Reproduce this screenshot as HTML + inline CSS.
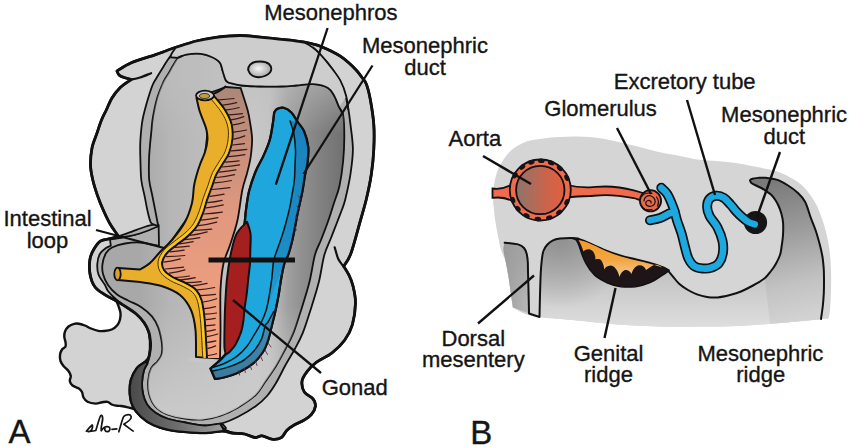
<!DOCTYPE html>
<html><head><meta charset="utf-8">
<style>
html,body{margin:0;padding:0;background:#fff;}
body{width:850px;height:447px;overflow:hidden;}
svg{display:block;}
text{font-family:"Liberation Sans",sans-serif;font-size:22px;fill:#151515;stroke:#151515;stroke-width:0.35px;text-anchor:middle;}
</style></head><body>
<svg width="850" height="447" viewBox="0 0 850 447">
<defs>
<linearGradient id="cav" x1="140" y1="0" x2="345" y2="0" gradientUnits="userSpaceOnUse">
<stop offset="0" stop-color="#a8a8a8"/><stop offset="0.15" stop-color="#b6b6b6"/><stop offset="0.3" stop-color="#bcbcbc"/><stop offset="0.55" stop-color="#c8c8c8"/><stop offset="0.63" stop-color="#c4c4c4"/><stop offset="0.72" stop-color="#a0a0a0"/><stop offset="0.8" stop-color="#8e8e8e"/><stop offset="0.9" stop-color="#7e7e7e"/><stop offset="1" stop-color="#707070"/>
</linearGradient>
<linearGradient id="cavb" x1="0" y1="85" x2="0" y2="410" gradientUnits="userSpaceOnUse">
<stop offset="0" stop-color="#c0c0c0" stop-opacity="0.5"/><stop offset="0.15" stop-color="#c0c0c0" stop-opacity="0"/><stop offset="0.68" stop-color="#cbcbcb" stop-opacity="0"/><stop offset="1" stop-color="#cbcbcb" stop-opacity="0.9"/>
</linearGradient>
<linearGradient id="pink" x1="0" y1="90" x2="0" y2="360" gradientUnits="userSpaceOnUse">
<stop offset="0" stop-color="#ad8779"/><stop offset="0.45" stop-color="#e0987f"/><stop offset="1" stop-color="#f6a27e"/>
</linearGradient>
<linearGradient id="darkband" x1="130" y1="0" x2="225" y2="0" gradientUnits="userSpaceOnUse">
<stop offset="0" stop-color="#4a4a4a"/><stop offset="0.5" stop-color="#6e6e6e"/><stop offset="1" stop-color="#a0a0a0"/>
</linearGradient>
<radialGradient id="oval" cx="0.45" cy="0.45" r="0.6">
<stop offset="0" stop-color="#f6f6f6"/><stop offset="1" stop-color="#a0a0a0"/>
</radialGradient>
<linearGradient id="aorta" x1="0" y1="0" x2="1" y2="0">
<stop offset="0" stop-color="#8e746c"/><stop offset="0.6" stop-color="#c9644c"/><stop offset="1" stop-color="#e2603e"/>
</linearGradient>
<linearGradient id="coel" x1="0" y1="240" x2="0" y2="328" gradientUnits="userSpaceOnUse">
<stop offset="0" stop-color="#b4b4b4"/><stop offset="0.5" stop-color="#c8c8c8"/><stop offset="1" stop-color="#dedede"/>
</linearGradient>
<linearGradient id="wedge" x1="770" y1="182" x2="800" y2="318" gradientUnits="userSpaceOnUse">
<stop offset="0" stop-color="#7a7a7a"/><stop offset="0.35" stop-color="#999999"/><stop offset="0.75" stop-color="#c2c2c2"/><stop offset="1" stop-color="#d2d2d2"/>
</linearGradient>
<radialGradient id="rlobe" cx="560" cy="238" r="70" gradientUnits="userSpaceOnUse">
<stop offset="0" stop-color="#8c8c8c" stop-opacity="0.9"/><stop offset="1" stop-color="#8c8c8c" stop-opacity="0"/>
</radialGradient>
<linearGradient id="dband" x1="0" y1="120" x2="0" y2="330" gradientUnits="userSpaceOnUse">
<stop offset="0" stop-color="#1a82bc"/><stop offset="0.6" stop-color="#1b8cc6"/><stop offset="1" stop-color="#20a4dc"/>
</linearGradient>
<linearGradient id="steel" x1="0" y1="320" x2="0" y2="379" gradientUnits="userSpaceOnUse">
<stop offset="0" stop-color="#3e8fb6"/><stop offset="1" stop-color="#3a7a9c"/>
</linearGradient>
<linearGradient id="lobeL" x1="497" y1="0" x2="529" y2="0" gradientUnits="userSpaceOnUse">
<stop offset="0" stop-color="#969696"/><stop offset="1" stop-color="#b8b8b8"/>
</linearGradient>
<linearGradient id="ridge" x1="0" y1="240" x2="0" y2="276" gradientUnits="userSpaceOnUse">
<stop offset="0" stop-color="#f49a2a"/><stop offset="0.55" stop-color="#f3a640"/><stop offset="1" stop-color="#f2c890"/>
</linearGradient>
<clipPath id="bodyclip"><path d="M117.0 71.0 C119.4 69.6 125.0 65.4 131.3 62.7 C137.6 60.0 148.9 56.9 154.8 54.9 C160.8 52.9 162.8 52.0 167.0 50.5 C171.2 49.0 175.1 47.6 180.0 46.0 C184.9 44.4 191.0 42.4 196.5 41.0 C202.0 39.6 207.5 38.6 213.0 37.8 C218.5 37.0 224.7 36.4 229.4 36.0 C234.1 35.6 236.9 35.4 241.0 35.5 C245.1 35.6 249.1 36.0 254.0 36.5 C258.9 37.0 265.1 37.6 270.6 38.2 C276.1 38.8 281.5 39.3 287.0 39.9 C292.5 40.5 299.3 41.3 303.6 42.0 C307.9 42.7 310.3 43.3 313.0 44.0 C315.7 44.7 317.0 44.9 320.0 46.1 C323.0 47.3 327.6 49.3 331.0 51.0 C334.4 52.7 337.3 54.2 340.3 56.2 C343.3 58.2 346.3 60.6 349.0 63.0 C351.7 65.3 354.2 67.9 356.4 70.3 C358.6 72.7 360.3 75.2 362.0 77.5 C363.7 79.8 365.1 80.6 366.5 84.4 C367.9 88.2 369.3 93.8 370.5 100.5 C371.7 107.2 373.2 116.5 373.8 124.6 C374.4 132.7 374.2 141.0 373.8 149.2 C373.4 157.4 372.6 165.6 371.4 173.8 C370.2 182.0 368.4 190.5 366.5 198.5 C364.6 206.5 362.6 212.8 360.0 222.0 C357.4 231.2 353.5 246.3 350.8 253.7 C348.1 261.1 344.9 264.1 343.7 266.2 L343.7 266.2 C344.6 267.7 347.4 271.9 349.0 275.2 C350.6 278.5 351.9 281.4 353.0 286.0 C354.1 290.6 355.6 296.3 355.5 302.7 C355.4 309.1 354.2 318.3 352.4 324.6 C350.6 330.9 348.0 335.6 344.6 340.3 C341.2 345.0 336.7 349.2 332.0 352.9 C327.3 356.6 320.5 359.2 316.3 362.3 C312.1 365.4 309.4 368.5 307.0 371.7 C304.6 374.9 302.4 377.9 302.0 381.3 C301.6 384.7 302.5 389.0 304.3 391.9 C306.1 394.8 311.1 396.5 313.0 398.9 C314.9 401.2 315.8 403.4 315.5 406.0 C315.2 408.6 313.2 412.4 311.3 414.7 C309.4 417.0 307.2 418.2 304.3 420.0 C301.4 421.8 296.7 423.4 293.8 425.2 C290.9 426.9 288.8 428.4 286.7 430.5 C284.6 432.6 283.8 436.0 281.5 437.5 C279.2 439.0 275.9 439.6 272.7 439.3 C269.4 439.0 264.9 436.1 262.0 435.8 C259.1 435.5 257.9 437.8 255.0 437.5 C252.1 437.2 248.4 434.8 244.6 434.0 C240.8 433.2 236.1 433.5 232.3 433.0 C228.5 432.5 226.5 431.0 222.0 431.0 C217.5 431.0 211.6 432.7 205.5 432.8 C199.4 432.9 191.4 432.3 185.4 431.8 C179.4 431.3 174.7 431.0 169.3 429.8 C163.9 428.6 157.9 427.0 153.2 424.8 C148.5 422.6 144.5 419.7 141.1 416.6 C137.7 413.5 134.8 410.1 133.0 406.4 C131.2 402.7 130.3 398.7 130.0 394.3 C129.7 389.9 129.8 384.6 131.0 380.2 C132.2 375.8 134.8 371.1 137.1 368.1 C139.4 365.1 143.8 363.1 145.1 362.1 L145.1 362.1 C145.6 361.5 147.6 359.9 148.3 358.5 C149.1 357.1 149.2 356.1 149.6 354.0 C150.0 351.9 150.5 348.1 150.6 346.0 C150.7 343.9 150.7 343.7 150.4 341.4 C150.1 339.1 149.9 335.1 148.8 332.0 C147.8 328.9 146.2 325.6 144.1 322.6 C142.0 319.6 139.7 316.9 136.3 314.0 C132.9 311.1 127.5 307.8 123.8 305.4 C120.1 303.0 117.6 301.7 114.4 299.9 C111.2 298.1 107.9 296.8 104.7 294.6 C101.5 292.5 97.5 290.4 95.0 287.0 C92.5 283.6 90.8 278.7 90.0 274.0 C89.2 269.3 89.3 263.2 90.0 259.0 C90.7 254.8 92.2 252.0 94.0 249.0 C95.8 246.0 97.9 242.7 100.6 241.0 C103.3 239.3 107.0 239.5 110.0 238.7 C113.0 237.9 117.2 236.7 118.6 236.3 L118.6 236.3 C118.2 235.8 117.7 235.3 116.3 233.2 C114.9 231.1 112.1 227.5 110.0 223.8 C107.9 220.2 105.9 216.0 103.8 211.3 C101.7 206.6 99.3 200.8 97.5 195.6 C95.7 190.4 94.0 185.1 92.8 180.0 C91.6 174.9 90.6 170.3 90.5 165.0 C90.4 159.7 91.0 153.2 92.0 148.0 C93.0 142.8 95.2 138.3 96.8 133.6 C98.4 128.9 99.9 123.9 101.5 120.0 C103.1 116.1 104.5 113.7 106.3 110.0 C108.0 106.3 109.7 101.8 112.0 98.0 C114.3 94.2 117.1 90.6 120.3 87.5 C123.5 84.4 129.5 80.8 131.3 79.5 L131.3 79.5 C130.1 79.2 126.0 78.2 124.0 77.5 C122.0 76.8 120.2 76.1 119.0 75.0 C117.8 73.9 117.3 71.7 117.0 71.0 Z"/></clipPath>
</defs>

<!-- ============ PANEL A ============ -->
<path fill="#d3d3d3" stroke="#111" stroke-width="2.4" stroke-linejoin="round" d="M116.0 300.0 C116.5 301.1 118.0 304.7 118.8 306.9 C119.5 309.1 120.3 310.9 120.5 313.0 C120.7 315.1 120.5 317.5 120.0 319.5 C119.5 321.5 118.9 323.3 117.5 325.0 C116.1 326.7 114.0 328.5 111.7 329.5 C109.5 330.5 106.2 330.8 104.0 331.0 C101.8 331.2 100.5 331.3 98.3 330.9 C96.1 330.5 93.2 329.4 91.0 328.5 C88.8 327.6 86.9 326.3 84.9 325.5 C82.9 324.7 80.8 324.1 79.0 323.8 C77.2 323.5 76.0 323.4 74.2 323.8 C72.5 324.2 70.0 325.2 68.5 326.5 C67.0 327.8 65.7 329.8 65.0 331.5 C64.3 333.2 64.2 335.2 64.3 337.0 C64.4 338.8 65.3 340.4 65.5 342.0 C65.7 343.6 66.1 345.2 65.5 346.5 C64.9 347.8 62.9 348.1 62.0 349.5 C61.1 350.9 60.2 353.1 60.0 355.0 C59.8 356.9 59.9 359.2 60.5 361.0 C61.1 362.8 62.2 364.3 63.5 366.0 C64.8 367.7 67.3 369.3 68.5 371.0 C69.7 372.7 70.6 374.3 70.8 376.0 C71.0 377.7 69.5 379.4 69.8 381.0 C70.1 382.6 71.0 384.3 72.5 385.5 C74.0 386.7 76.9 387.2 78.5 388.3 C80.1 389.4 81.2 390.5 82.0 392.0 C82.8 393.5 82.6 395.9 83.5 397.5 C84.4 399.1 85.5 400.8 87.5 401.8 C89.5 402.8 93.2 403.5 95.6 403.6 C98.0 403.7 100.0 402.6 102.0 402.3 C104.0 402.0 105.9 401.4 107.5 401.8 C109.1 402.2 110.1 403.8 111.7 404.5 C113.3 405.2 115.4 405.6 117.0 405.8 C118.6 406.1 119.3 405.7 121.1 406.0 C122.9 406.3 125.8 406.9 128.0 407.4 C130.2 407.9 133.0 408.7 134.0 409.0 L150.0 380.0 L150.0 320.0 Z"/>
<path fill="#d3d3d3" stroke="#111" stroke-width="2.6" stroke-linejoin="round" d="M117.0 71.0 C119.4 69.6 125.0 65.4 131.3 62.7 C137.6 60.0 148.9 56.9 154.8 54.9 C160.8 52.9 162.8 52.0 167.0 50.5 C171.2 49.0 175.1 47.6 180.0 46.0 C184.9 44.4 191.0 42.4 196.5 41.0 C202.0 39.6 207.5 38.6 213.0 37.8 C218.5 37.0 224.7 36.4 229.4 36.0 C234.1 35.6 236.9 35.4 241.0 35.5 C245.1 35.6 249.1 36.0 254.0 36.5 C258.9 37.0 265.1 37.6 270.6 38.2 C276.1 38.8 281.5 39.3 287.0 39.9 C292.5 40.5 299.3 41.3 303.6 42.0 C307.9 42.7 310.3 43.3 313.0 44.0 C315.7 44.7 317.0 44.9 320.0 46.1 C323.0 47.3 327.6 49.3 331.0 51.0 C334.4 52.7 337.3 54.2 340.3 56.2 C343.3 58.2 346.3 60.6 349.0 63.0 C351.7 65.3 354.2 67.9 356.4 70.3 C358.6 72.7 360.3 75.2 362.0 77.5 C363.7 79.8 365.1 80.6 366.5 84.4 C367.9 88.2 369.3 93.8 370.5 100.5 C371.7 107.2 373.2 116.5 373.8 124.6 C374.4 132.7 374.2 141.0 373.8 149.2 C373.4 157.4 372.6 165.6 371.4 173.8 C370.2 182.0 368.4 190.5 366.5 198.5 C364.6 206.5 362.6 212.8 360.0 222.0 C357.4 231.2 353.5 246.3 350.8 253.7 C348.1 261.1 344.9 264.1 343.7 266.2 L343.7 266.2 C344.6 267.7 347.4 271.9 349.0 275.2 C350.6 278.5 351.9 281.4 353.0 286.0 C354.1 290.6 355.6 296.3 355.5 302.7 C355.4 309.1 354.2 318.3 352.4 324.6 C350.6 330.9 348.0 335.6 344.6 340.3 C341.2 345.0 336.7 349.2 332.0 352.9 C327.3 356.6 320.5 359.2 316.3 362.3 C312.1 365.4 309.4 368.5 307.0 371.7 C304.6 374.9 302.4 377.9 302.0 381.3 C301.6 384.7 302.5 389.0 304.3 391.9 C306.1 394.8 311.1 396.5 313.0 398.9 C314.9 401.2 315.8 403.4 315.5 406.0 C315.2 408.6 313.2 412.4 311.3 414.7 C309.4 417.0 307.2 418.2 304.3 420.0 C301.4 421.8 296.7 423.4 293.8 425.2 C290.9 426.9 288.8 428.4 286.7 430.5 C284.6 432.6 283.8 436.0 281.5 437.5 C279.2 439.0 275.9 439.6 272.7 439.3 C269.4 439.0 264.9 436.1 262.0 435.8 C259.1 435.5 257.9 437.8 255.0 437.5 C252.1 437.2 248.4 434.8 244.6 434.0 C240.8 433.2 236.1 433.5 232.3 433.0 C228.5 432.5 226.5 431.0 222.0 431.0 C217.5 431.0 211.6 432.7 205.5 432.8 C199.4 432.9 191.4 432.3 185.4 431.8 C179.4 431.3 174.7 431.0 169.3 429.8 C163.9 428.6 157.9 427.0 153.2 424.8 C148.5 422.6 144.5 419.7 141.1 416.6 C137.7 413.5 134.8 410.1 133.0 406.4 C131.2 402.7 130.3 398.7 130.0 394.3 C129.7 389.9 129.8 384.6 131.0 380.2 C132.2 375.8 134.8 371.1 137.1 368.1 C139.4 365.1 143.8 363.1 145.1 362.1 L145.1 362.1 C145.6 361.5 147.6 359.9 148.3 358.5 C149.1 357.1 149.2 356.1 149.6 354.0 C150.0 351.9 150.5 348.1 150.6 346.0 C150.7 343.9 150.7 343.7 150.4 341.4 C150.1 339.1 149.9 335.1 148.8 332.0 C147.8 328.9 146.2 325.6 144.1 322.6 C142.0 319.6 139.7 316.9 136.3 314.0 C132.9 311.1 127.5 307.8 123.8 305.4 C120.1 303.0 117.6 301.7 114.4 299.9 C111.2 298.1 107.9 296.8 104.7 294.6 C101.5 292.5 97.5 290.4 95.0 287.0 C92.5 283.6 90.8 278.7 90.0 274.0 C89.2 269.3 89.3 263.2 90.0 259.0 C90.7 254.8 92.2 252.0 94.0 249.0 C95.8 246.0 97.9 242.7 100.6 241.0 C103.3 239.3 107.0 239.5 110.0 238.7 C113.0 237.9 117.2 236.7 118.6 236.3 L118.6 236.3 C118.2 235.8 117.7 235.3 116.3 233.2 C114.9 231.1 112.1 227.5 110.0 223.8 C107.9 220.2 105.9 216.0 103.8 211.3 C101.7 206.6 99.3 200.8 97.5 195.6 C95.7 190.4 94.0 185.1 92.8 180.0 C91.6 174.9 90.6 170.3 90.5 165.0 C90.4 159.7 91.0 153.2 92.0 148.0 C93.0 142.8 95.2 138.3 96.8 133.6 C98.4 128.9 99.9 123.9 101.5 120.0 C103.1 116.1 104.5 113.7 106.3 110.0 C108.0 106.3 109.7 101.8 112.0 98.0 C114.3 94.2 117.1 90.6 120.3 87.5 C123.5 84.4 129.5 80.8 131.3 79.5 L131.3 79.5 C130.1 79.2 126.0 78.2 124.0 77.5 C122.0 76.8 120.2 76.1 119.0 75.0 C117.8 73.9 117.3 71.7 117.0 71.0 Z"/>
<path fill="#b0b0b0" stroke="#111" stroke-width="1.8" stroke-linejoin="round" d="M173.9 51.7 C176.6 51.1 179.0 49.5 190.0 48.0 C201.0 46.5 223.3 44.0 240.0 43.0 C256.7 42.0 278.5 41.8 290.0 42.0 C301.5 42.2 303.7 42.1 309.0 44.5 C314.3 46.9 317.9 52.1 321.8 56.2 C325.7 60.3 329.2 64.3 332.4 68.9 C335.6 73.5 338.7 79.5 340.8 83.7 C342.9 87.9 343.8 90.4 345.0 94.3 C346.2 98.2 347.1 102.0 348.0 107.0 C348.9 112.0 349.7 117.6 350.5 124.6 C351.3 131.6 352.9 141.0 352.9 149.2 C352.9 157.4 351.7 165.6 350.5 173.8 C349.3 182.0 346.9 192.5 345.5 198.5 C344.1 204.5 343.2 206.2 341.8 210.0 C340.4 213.8 339.2 216.8 337.4 221.5 C335.6 226.2 333.2 232.4 331.0 238.0 C328.8 243.6 326.3 247.7 324.3 255.0 C322.3 262.3 321.1 272.9 318.9 281.8 C316.7 290.8 313.6 300.2 310.9 308.7 C308.2 317.2 305.5 326.2 302.8 332.9 C300.1 339.6 297.8 343.5 294.8 349.0 C291.8 354.5 288.1 360.3 285.0 366.0 C281.9 371.7 279.0 378.0 276.0 383.0 C273.0 388.0 270.4 392.1 267.0 396.0 C263.6 399.9 260.4 402.9 255.6 406.3 C250.8 409.8 243.9 413.8 238.1 416.7 C232.3 419.6 226.2 422.2 220.7 423.7 C215.2 425.2 210.9 425.7 205.0 425.5 C199.1 425.3 191.7 423.7 185.4 422.5 C179.1 421.3 172.3 420.2 167.3 418.5 C162.3 416.8 158.6 414.8 155.2 412.4 C151.8 410.0 149.1 407.4 147.1 404.4 C145.1 401.4 143.9 398.0 143.1 394.3 C142.3 390.6 141.9 386.2 142.1 382.2 C142.3 378.2 143.2 373.2 144.1 370.1 C145.0 367.0 146.6 366.0 147.5 363.5 C148.4 361.0 149.1 357.9 149.6 355.0 C150.1 352.1 150.5 348.3 150.6 346.0 C150.7 343.7 150.7 343.7 150.4 341.4 C150.1 339.1 149.9 335.1 148.8 332.0 C147.8 328.9 146.2 325.6 144.1 322.6 C142.0 319.6 139.7 316.9 136.3 314.0 C132.9 311.1 127.4 308.1 123.8 305.4 C120.2 302.7 117.2 300.4 114.6 298.0 C112.0 295.6 109.7 293.2 108.0 291.0 C106.3 288.8 106.3 287.2 104.7 284.5 C103.1 281.8 99.7 277.9 98.5 274.5 C97.3 271.1 97.1 267.4 97.3 264.0 C97.5 260.6 98.3 256.7 99.8 254.0 C101.2 251.3 104.2 249.4 106.0 248.0 C107.8 246.6 110.0 246.1 110.8 245.7 L110.8 245.7 C110.7 244.7 110.1 240.5 110.0 239.5 L110.0 239.5 C112.3 239.1 119.0 238.1 124.0 237.0 C129.0 235.9 134.8 235.3 139.8 233.2 C144.8 231.1 151.6 226.0 153.9 224.6 L153.9 224.6 C153.4 224.2 151.8 224.5 150.7 222.3 C149.6 220.1 148.6 215.8 147.6 211.3 C146.6 206.9 145.6 200.8 144.5 195.6 C143.4 190.4 142.0 185.9 141.3 180.0 C140.6 174.1 140.6 165.8 140.4 160.0 C140.2 154.2 140.1 150.0 140.2 145.0 C140.3 140.0 140.8 134.2 141.2 130.0 C141.6 125.8 141.9 123.3 142.5 120.0 C143.1 116.7 143.8 113.8 144.8 110.0 C145.8 106.2 147.2 101.2 148.5 97.0 C149.8 92.8 151.3 88.2 152.6 85.0 C153.9 81.8 154.9 80.7 156.5 78.0 C158.1 75.3 160.1 72.0 162.0 69.0 C163.9 66.0 165.8 62.7 167.8 59.8 C169.8 56.9 172.9 53.1 173.9 51.7 Z"/>
<path fill="url(#cav)" stroke="#111" stroke-width="1.8" stroke-linejoin="round" d="M177.9 57.8 C179.3 57.3 182.5 55.2 186.3 54.6 C190.1 54.0 196.8 53.5 200.9 53.9 C205.0 54.3 207.8 55.3 211.0 56.8 C214.2 58.2 217.9 60.2 219.8 62.6 C221.8 65.0 221.7 68.4 222.7 71.3 C223.7 74.2 224.6 78.1 225.6 80.0 C226.6 81.9 228.0 82.2 228.5 82.7 L228.5 82.7 C230.6 83.2 236.0 84.9 241.3 85.5 C246.6 86.1 253.6 86.3 260.3 86.5 C267.0 86.7 275.5 86.7 281.5 86.5 C287.5 86.3 291.1 85.9 296.4 85.5 C301.7 85.1 308.0 83.8 313.3 84.2 C318.6 84.6 324.5 86.0 328.0 88.0 C331.5 90.0 332.7 93.2 334.5 96.4 C336.3 99.6 337.6 103.9 339.0 107.0 C340.4 110.1 342.2 109.8 343.1 114.8 C344.0 119.8 344.3 129.1 344.3 136.9 C344.3 144.7 343.9 153.3 343.1 161.5 C342.3 169.7 340.9 179.3 339.4 186.2 C337.9 193.1 335.9 197.1 334.0 203.0 C332.1 208.9 330.2 215.3 328.0 221.5 C325.8 227.7 323.2 234.4 321.0 240.0 C318.8 245.6 316.8 248.0 314.9 255.0 C313.0 262.0 311.7 272.9 309.5 281.8 C307.3 290.8 304.2 300.2 301.5 308.7 C298.8 317.2 296.1 326.2 293.4 332.9 C290.7 339.6 288.3 343.5 285.4 349.0 C282.5 354.5 279.4 360.5 276.0 366.0 C272.6 371.5 268.4 377.2 265.0 382.0 C261.6 386.8 260.1 390.8 255.6 395.0 C251.1 399.2 243.9 404.0 238.1 407.4 C232.3 410.8 226.5 413.6 220.7 415.6 C214.8 417.6 208.9 419.0 203.0 419.5 C197.1 420.0 190.9 419.4 185.0 418.5 C179.1 417.6 172.3 416.4 167.3 414.4 C162.3 412.4 158.2 409.8 155.2 406.4 C152.2 403.0 150.4 398.7 149.2 394.3 C148.0 389.9 147.9 384.6 148.2 380.2 C148.5 375.8 149.7 371.1 151.2 368.1 C152.7 365.1 155.4 364.0 157.0 362.0 C158.6 360.0 160.1 358.0 161.0 356.0 C161.9 354.0 162.1 352.7 162.2 350.0 C162.3 347.3 162.1 343.6 161.4 339.8 C160.7 336.0 159.8 331.2 158.2 327.3 C156.6 323.4 154.9 319.7 152.0 316.3 C149.1 312.9 144.9 309.5 141.0 306.9 C137.1 304.3 132.5 302.8 128.5 300.7 C124.5 298.6 120.4 297.1 117.0 294.5 C113.6 291.9 110.3 288.4 108.0 285.0 C105.7 281.6 103.9 277.5 103.0 274.0 C102.1 270.5 102.0 267.5 102.5 264.0 C103.0 260.5 104.4 255.8 106.0 253.0 C107.6 250.2 108.8 249.1 112.0 247.5 C115.2 245.9 120.3 244.3 125.0 243.5 C129.7 242.7 134.3 242.1 140.0 242.5 C145.7 242.9 155.8 245.4 159.0 246.0 L159.0 246.0 C158.9 242.7 158.8 229.9 158.6 226.2 C158.4 222.5 158.3 226.3 157.8 223.8 C157.3 221.3 156.3 216.0 155.4 211.3 C154.5 206.6 153.3 200.8 152.3 195.6 C151.3 190.4 149.8 185.9 149.2 180.0 C148.6 174.1 148.9 165.8 149.0 160.0 C149.1 154.2 149.6 150.0 150.0 145.0 C150.4 140.0 151.1 134.2 151.5 130.0 C151.9 125.8 152.0 123.3 152.5 120.0 C153.0 116.7 153.5 113.8 154.3 110.0 C155.1 106.2 156.2 101.2 157.5 97.0 C158.8 92.8 160.8 88.0 162.1 85.0 C163.3 82.0 163.9 80.9 165.0 79.0 C166.1 77.1 167.1 75.8 168.5 73.5 C169.9 71.2 171.6 67.8 173.2 65.2 C174.8 62.6 177.1 59.0 177.9 57.8 Z"/>
<path fill="url(#cavb)" d="M177.9 57.8 C179.3 57.3 182.5 55.2 186.3 54.6 C190.1 54.0 196.8 53.5 200.9 53.9 C205.0 54.3 207.8 55.3 211.0 56.8 C214.2 58.2 217.9 60.2 219.8 62.6 C221.8 65.0 221.7 68.4 222.7 71.3 C223.7 74.2 224.6 78.1 225.6 80.0 C226.6 81.9 228.0 82.2 228.5 82.7 L228.5 82.7 C230.6 83.2 236.0 84.9 241.3 85.5 C246.6 86.1 253.6 86.3 260.3 86.5 C267.0 86.7 275.5 86.7 281.5 86.5 C287.5 86.3 291.1 85.9 296.4 85.5 C301.7 85.1 308.0 83.8 313.3 84.2 C318.6 84.6 324.5 86.0 328.0 88.0 C331.5 90.0 332.7 93.2 334.5 96.4 C336.3 99.6 337.6 103.9 339.0 107.0 C340.4 110.1 342.2 109.8 343.1 114.8 C344.0 119.8 344.3 129.1 344.3 136.9 C344.3 144.7 343.9 153.3 343.1 161.5 C342.3 169.7 340.9 179.3 339.4 186.2 C337.9 193.1 335.9 197.1 334.0 203.0 C332.1 208.9 330.2 215.3 328.0 221.5 C325.8 227.7 323.2 234.4 321.0 240.0 C318.8 245.6 316.8 248.0 314.9 255.0 C313.0 262.0 311.7 272.9 309.5 281.8 C307.3 290.8 304.2 300.2 301.5 308.7 C298.8 317.2 296.1 326.2 293.4 332.9 C290.7 339.6 288.3 343.5 285.4 349.0 C282.5 354.5 279.4 360.5 276.0 366.0 C272.6 371.5 268.4 377.2 265.0 382.0 C261.6 386.8 260.1 390.8 255.6 395.0 C251.1 399.2 243.9 404.0 238.1 407.4 C232.3 410.8 226.5 413.6 220.7 415.6 C214.8 417.6 208.9 419.0 203.0 419.5 C197.1 420.0 190.9 419.4 185.0 418.5 C179.1 417.6 172.3 416.4 167.3 414.4 C162.3 412.4 158.2 409.8 155.2 406.4 C152.2 403.0 150.4 398.7 149.2 394.3 C148.0 389.9 147.9 384.6 148.2 380.2 C148.5 375.8 149.7 371.1 151.2 368.1 C152.7 365.1 155.4 364.0 157.0 362.0 C158.6 360.0 160.1 358.0 161.0 356.0 C161.9 354.0 162.1 352.7 162.2 350.0 C162.3 347.3 162.1 343.6 161.4 339.8 C160.7 336.0 159.8 331.2 158.2 327.3 C156.6 323.4 154.9 319.7 152.0 316.3 C149.1 312.9 144.9 309.5 141.0 306.9 C137.1 304.3 132.5 302.8 128.5 300.7 C124.5 298.6 120.4 297.1 117.0 294.5 C113.6 291.9 110.3 288.4 108.0 285.0 C105.7 281.6 103.9 277.5 103.0 274.0 C102.1 270.5 102.0 267.5 102.5 264.0 C103.0 260.5 104.4 255.8 106.0 253.0 C107.6 250.2 108.8 249.1 112.0 247.5 C115.2 245.9 120.3 244.3 125.0 243.5 C129.7 242.7 134.3 242.1 140.0 242.5 C145.7 242.9 155.8 245.4 159.0 246.0 L159.0 246.0 C158.9 242.7 158.8 229.9 158.6 226.2 C158.4 222.5 158.3 226.3 157.8 223.8 C157.3 221.3 156.3 216.0 155.4 211.3 C154.5 206.6 153.3 200.8 152.3 195.6 C151.3 190.4 149.8 185.9 149.2 180.0 C148.6 174.1 148.9 165.8 149.0 160.0 C149.1 154.2 149.6 150.0 150.0 145.0 C150.4 140.0 151.1 134.2 151.5 130.0 C151.9 125.8 152.0 123.3 152.5 120.0 C153.0 116.7 153.5 113.8 154.3 110.0 C155.1 106.2 156.2 101.2 157.5 97.0 C158.8 92.8 160.8 88.0 162.1 85.0 C163.3 82.0 163.9 80.9 165.0 79.0 C166.1 77.1 167.1 75.8 168.5 73.5 C169.9 71.2 171.6 67.8 173.2 65.2 C174.8 62.6 177.1 59.0 177.9 57.8 Z"/>
<path fill="#cdcdcd" clip-path="url(#bodyclip)" d="M165.0 40.0 C172.2 39.3 195.5 37.0 208.0 36.0 C220.5 35.0 227.8 34.0 240.0 34.0 C252.2 34.0 270.7 34.8 281.5 36.0 C292.3 37.2 299.9 39.4 305.0 41.0 C310.1 42.6 309.5 43.3 312.0 45.5 C314.5 47.7 317.0 50.5 320.0 54.0 C323.0 57.5 326.8 61.9 330.2 66.3 C333.6 70.7 337.6 75.4 340.3 80.4 C343.0 85.4 345.3 93.8 346.3 96.5 L346.3 97.0 L339.0 107.0 C338.2 105.2 336.3 99.6 334.5 96.4 C332.7 93.2 331.5 90.0 328.0 88.0 C324.5 86.0 318.6 84.6 313.3 84.2 C308.0 83.8 301.7 85.1 296.4 85.5 C291.1 85.9 287.5 86.3 281.5 86.5 C275.5 86.7 267.0 86.7 260.3 86.5 C253.6 86.3 246.6 86.1 241.3 85.5 C236.0 84.9 230.6 83.2 228.5 82.7 L228.5 82.7 C228.0 82.2 226.6 81.9 225.6 80.0 C224.6 78.1 223.7 74.2 222.7 71.3 C221.7 68.4 221.8 65.0 219.8 62.6 C217.9 60.2 214.2 58.2 211.0 56.8 C207.8 55.3 205.0 54.3 200.9 53.9 C196.8 53.5 191.4 54.1 186.3 54.6 C181.2 55.1 173.0 56.4 170.3 56.8 L160.0 50.0 Z"/>
<path fill="none" stroke="#111" stroke-width="1.8" d="M169.5 57.3 C170.9 57.4 175.1 58.2 177.9 57.8 C180.7 57.3 182.5 55.2 186.3 54.6 C190.1 54.0 196.8 53.5 200.9 53.9 C205.0 54.3 207.8 55.3 211.0 56.8 C214.2 58.2 217.9 60.2 219.8 62.6 C221.8 65.0 221.7 68.4 222.7 71.3 C223.7 74.2 224.6 78.1 225.6 80.0 C226.6 81.9 228.0 82.2 228.5 82.7 M228.5 82.7 C230.6 83.2 236.0 84.9 241.3 85.5 C246.6 86.1 253.6 86.3 260.3 86.5 C267.0 86.7 275.5 86.7 281.5 86.5 C287.5 86.3 291.1 85.9 296.4 85.5 C301.7 85.1 308.0 83.8 313.3 84.2 C318.6 84.6 324.5 86.0 328.0 88.0 C331.5 90.0 332.7 93.2 334.5 96.4 C336.3 99.6 337.6 103.9 339.0 107.0 C340.4 110.1 342.4 113.5 343.1 114.8"/>
<path fill="none" stroke="#111" stroke-width="1.8" d="M169.8 57.5 L172 53 L175.5 48"/>
<path fill="none" stroke="#111" stroke-width="1.8" d="M305 43 C312 46 316 50 320 54 C324 58.5 327 62 330.2 66.3 C334 71 337.5 75.5 340.3 80.4 C343 85.5 345 91 346.3 96.5 C347.3 101 348 105.5 348.4 110"/>
<path fill="none" stroke="#111" stroke-width="2.8" stroke-linejoin="round" d="M117.0 71.0 C119.4 69.6 125.0 65.4 131.3 62.7 C137.6 60.0 148.9 56.9 154.8 54.9 C160.8 52.9 162.8 52.0 167.0 50.5 C171.2 49.0 175.1 47.6 180.0 46.0 C184.9 44.4 191.0 42.4 196.5 41.0 C202.0 39.6 207.5 38.6 213.0 37.8 C218.5 37.0 224.7 36.4 229.4 36.0 C234.1 35.6 236.9 35.4 241.0 35.5 C245.1 35.6 249.1 36.0 254.0 36.5 C258.9 37.0 265.1 37.6 270.6 38.2 C276.1 38.8 281.5 39.3 287.0 39.9 C292.5 40.5 299.3 41.3 303.6 42.0 C307.9 42.7 310.3 43.3 313.0 44.0 C315.7 44.7 317.0 44.9 320.0 46.1 C323.0 47.3 327.6 49.3 331.0 51.0 C334.4 52.7 337.3 54.2 340.3 56.2 C343.3 58.2 346.3 60.6 349.0 63.0 C351.7 65.3 354.2 67.9 356.4 70.3 C358.6 72.7 360.3 75.2 362.0 77.5 C363.7 79.8 365.1 80.6 366.5 84.4 C367.9 88.2 369.3 93.8 370.5 100.5 C371.7 107.2 373.2 116.5 373.8 124.6 C374.4 132.7 374.2 141.0 373.8 149.2 C373.4 157.4 372.6 165.6 371.4 173.8 C370.2 182.0 368.4 190.5 366.5 198.5 C364.6 206.5 362.6 212.8 360.0 222.0 C357.4 231.2 353.5 246.3 350.8 253.7 C348.1 261.1 344.9 264.1 343.7 266.2 L343.7 266.2 C344.6 267.7 347.4 271.9 349.0 275.2 C350.6 278.5 351.9 281.4 353.0 286.0 C354.1 290.6 355.6 296.3 355.5 302.7 C355.4 309.1 354.2 318.3 352.4 324.6 C350.6 330.9 348.0 335.6 344.6 340.3 C341.2 345.0 336.7 349.2 332.0 352.9 C327.3 356.6 320.5 359.2 316.3 362.3 C312.1 365.4 309.4 368.5 307.0 371.7 C304.6 374.9 302.4 377.9 302.0 381.3 C301.6 384.7 302.5 389.0 304.3 391.9 C306.1 394.8 311.1 396.5 313.0 398.9 C314.9 401.2 315.8 403.4 315.5 406.0 C315.2 408.6 313.2 412.4 311.3 414.7 C309.4 417.0 307.2 418.2 304.3 420.0 C301.4 421.8 296.7 423.4 293.8 425.2 C290.9 426.9 288.8 428.4 286.7 430.5 C284.6 432.6 283.8 436.0 281.5 437.5 C279.2 439.0 275.9 439.6 272.7 439.3 C269.4 439.0 264.9 436.1 262.0 435.8 C259.1 435.5 257.9 437.8 255.0 437.5 C252.1 437.2 248.4 434.8 244.6 434.0 C240.8 433.2 236.1 433.5 232.3 433.0 C228.5 432.5 226.5 431.0 222.0 431.0 C217.5 431.0 211.6 432.7 205.5 432.8 C199.4 432.9 191.4 432.3 185.4 431.8 C179.4 431.3 174.7 431.0 169.3 429.8 C163.9 428.6 157.9 427.0 153.2 424.8 C148.5 422.6 144.5 419.7 141.1 416.6 C137.7 413.5 134.8 410.1 133.0 406.4 C131.2 402.7 130.3 398.7 130.0 394.3 C129.7 389.9 129.8 384.6 131.0 380.2 C132.2 375.8 134.8 371.1 137.1 368.1 C139.4 365.1 143.8 363.1 145.1 362.1 L145.1 362.1 C145.6 361.5 147.6 359.9 148.3 358.5 C149.1 357.1 149.2 356.1 149.6 354.0 C150.0 351.9 150.5 348.1 150.6 346.0 C150.7 343.9 150.7 343.7 150.4 341.4 C150.1 339.1 149.9 335.1 148.8 332.0 C147.8 328.9 146.2 325.6 144.1 322.6 C142.0 319.6 139.7 316.9 136.3 314.0 C132.9 311.1 127.5 307.8 123.8 305.4 C120.1 303.0 117.6 301.7 114.4 299.9 C111.2 298.1 107.9 296.8 104.7 294.6 C101.5 292.5 97.5 290.4 95.0 287.0 C92.5 283.6 90.8 278.7 90.0 274.0 C89.2 269.3 89.3 263.2 90.0 259.0 C90.7 254.8 92.2 252.0 94.0 249.0 C95.8 246.0 97.9 242.7 100.6 241.0 C103.3 239.3 107.0 239.5 110.0 238.7 C113.0 237.9 117.2 236.7 118.6 236.3 L118.6 236.3 C118.2 235.8 117.7 235.3 116.3 233.2 C114.9 231.1 112.1 227.5 110.0 223.8 C107.9 220.2 105.9 216.0 103.8 211.3 C101.7 206.6 99.3 200.8 97.5 195.6 C95.7 190.4 94.0 185.1 92.8 180.0 C91.6 174.9 90.6 170.3 90.5 165.0 C90.4 159.7 91.0 153.2 92.0 148.0 C93.0 142.8 95.2 138.3 96.8 133.6 C98.4 128.9 99.9 123.9 101.5 120.0 C103.1 116.1 104.5 113.7 106.3 110.0 C108.0 106.3 109.7 101.8 112.0 98.0 C114.3 94.2 117.1 90.6 120.3 87.5 C123.5 84.4 129.5 80.8 131.3 79.5 L131.3 79.5 C130.1 79.2 126.0 78.2 124.0 77.5 C122.0 76.8 120.2 76.1 119.0 75.0 C117.8 73.9 117.3 71.7 117.0 71.0 Z"/>
<path d="M248.2 70 C248 66 251 62.5 256 61.8 C261 61 266 61.5 269 64 C271.5 66.5 272 70 270 72.5 C267.5 75.5 263 77 259 77.2 C254 77.3 249.5 74.5 248.2 70 Z" fill="url(#oval)" stroke="#111" stroke-width="2"/>
<path fill="#acacac" stroke="#111" stroke-width="1.8" stroke-linejoin="round" d="M118.6 236.3 C120.8 235.5 127.7 233.2 132.0 231.6 C136.3 230.0 140.8 228.2 144.5 227.0 C148.2 225.8 152.3 225.0 153.9 224.6 L158.6 226.2 L155.4 227.5 C152.8 228.5 145.0 231.9 139.8 233.5 C134.6 235.1 129.0 236.1 124.0 237.0 C119.0 237.9 112.3 238.4 110.0 238.7 Z"/>
<path fill="url(#darkband)" stroke="#111" stroke-width="1.8" stroke-linejoin="round" d="M145.1 362.1 C143.8 363.1 139.4 365.1 137.1 368.1 C134.8 371.1 132.2 375.8 131.0 380.2 C129.8 384.6 129.7 389.9 130.0 394.3 C130.3 398.7 131.2 402.7 133.0 406.4 C134.8 410.1 137.7 413.5 141.1 416.6 C144.5 419.7 148.5 422.6 153.2 424.8 C157.9 427.0 163.9 428.6 169.3 429.8 C174.7 431.0 179.4 431.3 185.4 431.8 C191.4 432.3 199.4 432.9 205.5 432.8 C211.6 432.7 219.2 431.3 222.0 431.0 L226.0 428.0 C225.1 427.3 224.2 424.1 220.7 423.7 C217.2 423.3 210.9 425.7 205.0 425.5 C199.1 425.3 191.7 423.7 185.4 422.5 C179.1 421.3 172.3 420.2 167.3 418.5 C162.3 416.8 158.6 414.8 155.2 412.4 C151.8 410.0 149.1 407.4 147.1 404.4 C145.1 401.4 143.9 398.0 143.1 394.3 C142.3 390.6 141.9 386.2 142.1 382.2 C142.3 378.2 143.2 373.2 144.1 370.1 C145.0 367.0 146.9 364.6 147.5 363.5 Z"/>
<path fill="none" stroke="#111" stroke-width="2.2" stroke-linecap="round" d="M220.7 424.5 C221.3 425.3 222.3 428.1 224.2 429.5 C226.1 430.9 231.0 432.4 232.3 433.0"/>
<path fill="none" stroke="#111" stroke-width="2.2" stroke-linecap="round" d="M334.7 247.4 C335.3 249.3 336.8 255.8 338.3 259.0 C339.8 262.2 342.6 265.2 343.5 266.5"/>
<path fill="none" stroke="#111" stroke-width="2.2" stroke-linecap="round" d="M131.3 79.5 C132.8 79.2 136.7 78.5 140.0 77.5 C143.3 76.5 149.2 73.9 151.1 73.2"/>

<!-- mesentery pink -->
<path fill="url(#pink)" stroke="#111" stroke-width="1.8" d="M212.0 92.0 C214.3 91.2 223.7 87.8 226.0 87.0 L240.7 88.0 C241.8 91.7 246.0 104.0 247.6 110.0 C249.2 116.0 249.6 119.2 250.3 124.0 C251.1 128.8 251.9 133.8 252.1 138.6 C252.2 143.4 251.6 148.8 251.2 153.0 C250.8 157.2 250.2 160.1 249.4 163.7 C248.7 167.3 247.9 170.0 246.7 174.4 C245.5 178.8 243.9 182.2 242.3 190.0 C240.7 197.8 239.4 211.8 237.3 221.0 C235.2 230.2 232.3 237.9 230.0 245.0 C227.7 252.1 225.1 256.0 223.5 263.5 C221.9 271.0 221.0 278.9 220.5 290.0 C220.0 301.1 220.6 318.5 220.5 330.0 C220.4 341.5 220.1 354.2 220.0 359.0 L200.0 359.0 L192.0 300.0 L176.0 287.0 L155.0 266.0 L172.0 240.0 L200.0 200.0 Z"/>
<g stroke="#3a1c14" stroke-width="1.2" fill="none" stroke-linecap="round">
<path d="M218.6 99.9 q7.7 -0.4 15.4 -1.4"/>
<path d="M222.7 105.1 q7.0 -0.7 14.0 -2.4"/>
<path d="M226.4 109.9 q6.4 -0.7 12.8 -2.4"/>
<path d="M228.7 114.8 q6.9 -0.4 13.8 -1.2"/>
<path d="M231.0 119.8 q6.4 -1.0 12.8 -3.2"/>
<path d="M233.1 124.9 q5.6 -0.8 11.2 -2.7"/>
<path d="M233.5 132.1 q6.5 -0.6 13.0 -2.1"/>
<path d="M233.8 139.2 q5.5 -1.0 11.0 -3.3"/>
<path d="M232.4 145.0 q6.0 -0.4 12.1 -1.3"/>
<path d="M231.0 150.8 q8.0 -0.5 15.9 -1.5"/>
<path d="M228.4 156.6 q8.2 -0.6 16.5 -2.0"/>
<path d="M225.2 162.1 q7.0 -0.4 13.9 -1.2"/>
<path d="M222.3 167.0 q8.7 -0.6 17.3 -2.2"/>
<path d="M219.2 172.1 q8.4 -0.7 16.8 -2.2"/>
<path d="M216.7 177.5 q9.0 -0.9 17.9 -2.9"/>
<path d="M214.7 182.9 q8.4 -0.7 16.7 -2.4"/>
<path d="M212.4 189.5 q8.8 -0.5 17.6 -1.8"/>
<path d="M209.9 196.3 q7.1 -0.6 14.2 -2.1"/>
<path d="M207.7 202.7 q7.2 -0.7 14.4 -2.3"/>
<path d="M206.1 207.9 q8.6 -0.9 17.2 -3.0"/>
<path d="M204.0 214.0 q9.2 -0.6 18.4 -1.9"/>
<path d="M201.2 220.1 q8.4 -0.8 16.8 -2.5"/>
<path d="M198.6 225.7 q9.1 -1.0 18.2 -3.5"/>
<path d="M194.5 230.4 q8.6 -0.4 17.2 -1.2"/>
<path d="M190.1 235.4 q8.6 -1.1 17.1 -3.6"/>
<path d="M184.7 239.7 q7.6 -0.6 15.1 -2.0"/>
<path d="M179.5 243.8 q6.9 -0.7 13.7 -2.2"/>
<path d="M175.1 247.4 q7.1 -0.4 14.2 -1.2"/>
<path d="M169.9 251.8 q7.2 -0.5 14.3 -1.7"/>
<path d="M166.5 256.7 q9.2 -0.4 18.3 -1.2"/>
<path d="M163.8 262.2 q8.3 -1.0 16.6 -3.3"/>
<path d="M165.3 269.0 q9.2 -0.5 18.3 -1.8"/>
<path d="M169.4 273.2 q7.8 -1.0 15.6 -3.3"/>
<path d="M175.1 277.5 q7.2 -0.4 14.4 -1.5"/>
<path d="M180.4 279.9 q7.4 -0.7 14.9 -2.3"/>
<path d="M186.3 282.7 q7.5 -0.3 15.0 -1.1"/>
<path d="M191.5 285.9 q7.8 -0.8 15.6 -2.5"/>
<path d="M197.3 289.9 q8.7 -0.7 17.4 -2.4"/>
<path d="M200.5 295.6 q7.5 -0.4 15.0 -1.2"/>
<path d="M203.3 302.0 q6.7 -1.0 13.3 -3.3"/>
<path d="M204.5 308.7 q5.5 -0.6 11.0 -2.1"/>
<path d="M205.4 314.2 q5.6 -0.4 11.2 -1.2"/>
<path d="M206.1 319.6 q4.6 -0.4 9.2 -1.3"/>
<path d="M206.5 325.6 q4.2 -0.3 8.5 -0.8"/>
<path d="M206.9 331.3 q4.2 -0.5 8.4 -1.6"/>
<path d="M207.3 336.6 q5.2 -0.8 10.5 -2.6"/>
<path d="M207.6 342.3 q4.1 -0.5 8.3 -1.5"/>
<path d="M208.0 348.3 q3.8 -0.7 7.6 -2.4"/>
<path d="M208.4 355.5 q4.1 -0.5 8.2 -1.8"/>
</g>
<!-- gut -->
<path fill="#eaaf2a" stroke="#111" stroke-width="2" stroke-linejoin="round" d="M196.5 98.0 C197.0 100.0 198.2 106.3 199.3 110.0 C200.4 113.7 201.8 116.7 203.0 120.0 C204.2 123.3 205.8 126.7 206.5 130.0 C207.2 133.3 207.7 136.3 207.4 140.0 C207.2 143.7 206.2 148.0 205.0 152.0 C203.8 156.0 201.6 160.2 200.2 164.0 C198.8 167.8 197.6 171.3 196.6 175.0 C195.6 178.7 194.8 181.3 194.0 186.0 C193.2 190.7 193.5 197.0 192.0 203.0 C190.5 209.0 188.3 215.8 185.0 222.0 C181.7 228.2 176.2 235.0 172.0 240.0 C167.8 245.0 163.7 248.2 160.0 252.0 C156.3 255.8 153.3 260.1 150.0 263.0 C146.7 265.9 141.7 268.4 140.0 269.5 L118.0 268.0 L118.0 280.0 L140.0 282.0 C143.6 282.7 154.8 283.8 161.5 286.0 C168.2 288.2 175.1 291.0 180.0 295.0 C184.9 299.0 188.4 304.2 191.0 310.0 C193.6 315.8 194.7 322.2 195.5 330.0 C196.3 337.8 195.9 352.5 196.0 357.0 L207.0 358.0 C206.8 355.0 206.4 346.7 206.0 340.0 C205.6 333.3 205.2 324.7 204.5 318.0 C203.8 311.3 203.0 304.8 201.5 300.0 C200.0 295.2 198.3 292.3 195.6 289.5 C192.9 286.7 189.3 285.1 185.5 283.0 C181.7 280.9 176.1 279.2 172.5 277.0 C168.9 274.8 165.7 272.5 164.0 270.0 C162.3 267.5 161.7 264.8 162.2 262.0 C162.7 259.2 164.6 255.8 167.0 253.0 C169.4 250.2 173.0 247.8 176.5 245.0 C180.0 242.2 184.6 239.2 188.0 236.0 C191.4 232.8 194.5 229.8 197.0 226.0 C199.5 222.2 201.3 217.3 203.0 213.0 C204.7 208.7 205.5 204.3 207.0 200.0 C208.5 195.7 210.2 191.3 211.8 187.0 C213.4 182.7 214.5 178.2 216.3 174.4 C218.1 170.6 220.5 167.6 222.6 164.0 C224.7 160.4 227.4 157.2 229.0 153.0 C230.6 148.8 232.0 143.8 232.4 139.0 C232.8 134.2 232.7 128.8 231.5 124.0 C230.3 119.2 227.9 114.7 225.0 110.0 C222.1 105.3 215.8 98.3 214.0 96.0 Z"/>
<path fill="none" stroke="#f8c61e" stroke-width="2.4" d="M212.1 97.5 C213.9 99.8 220.1 106.8 223.0 111.3 C225.8 115.8 228.0 120.0 229.2 124.6 C230.3 129.2 230.4 134.2 230.0 138.8 C229.6 143.4 228.3 148.1 226.8 152.1 C225.2 156.1 222.6 159.2 220.5 162.8 C218.4 166.3 216.0 169.5 214.1 173.4 C212.3 177.3 211.1 181.9 209.5 186.2 C208.0 190.5 206.2 194.9 204.7 199.2 C203.3 203.6 202.4 207.9 200.8 212.1 C199.1 216.4 197.4 221.0 195.0 224.7 C192.6 228.4 189.7 231.2 186.4 234.2 C183.0 237.3 178.5 240.3 175.0 243.1 C171.5 246.0 167.7 248.4 165.2 251.5 C162.6 254.5 160.4 258.3 159.8 261.6 C159.3 264.9 160.1 268.4 162.0 271.4 C163.9 274.3 167.5 276.8 171.3 279.1 C175.0 281.3 180.6 283.1 184.4 285.1 C188.1 287.1 191.4 288.5 193.9 291.1 C196.3 293.7 197.8 296.2 199.2 300.7 C200.6 305.2 201.4 311.7 202.1 318.3 C202.8 324.8 203.2 333.5 203.6 340.1 C204.0 346.8 204.4 355.1 204.6 358.1"/>
<path fill="none" stroke="#4a3010" stroke-width="1" d="M210.7 98.6 C212.5 100.9 218.6 107.8 221.4 112.2 C224.2 116.6 226.3 120.6 227.4 125.0 C228.6 129.4 228.6 134.2 228.2 138.6 C227.8 143.0 226.6 147.6 225.1 151.5 C223.6 155.3 221.1 158.3 219.0 161.9 C216.9 165.4 214.4 168.7 212.5 172.6 C210.6 176.6 209.4 181.2 207.9 185.6 C206.3 189.9 204.5 194.3 203.0 198.7 C201.6 203.0 200.7 207.3 199.1 211.5 C197.5 215.7 195.8 220.1 193.5 223.7 C191.2 227.3 188.4 229.9 185.1 232.9 C181.9 235.9 177.4 238.8 173.9 241.7 C170.3 244.6 166.4 247.0 163.8 250.3 C161.2 253.6 158.6 257.6 158.1 261.3 C157.5 265.0 158.5 269.2 160.5 272.4 C162.6 275.6 166.5 278.2 170.3 280.6 C174.2 283.0 179.8 284.7 183.5 286.7 C187.2 288.7 190.2 290.0 192.5 292.4 C194.9 294.8 196.2 296.9 197.5 301.3 C198.8 305.6 199.6 312.0 200.3 318.5 C201.0 325.0 201.4 333.6 201.8 340.3 C202.2 346.9 202.6 355.2 202.8 358.2"/>
<!-- gut opening top -->
<ellipse cx="205" cy="95.5" rx="9" ry="4.8" fill="#c9c9c9" stroke="#111" stroke-width="1.8"/>
<ellipse cx="204.5" cy="96" rx="5" ry="2.5" fill="#c99a3a" stroke="#111" stroke-width="0.8"/>
<path d="M213 94 C218 92 222 90 226 86" fill="none" stroke="#111" stroke-width="1.8"/>
<!-- branch opening -->
<ellipse cx="117.5" cy="274" rx="3.2" ry="6.3" fill="#d9a030" stroke="#111" stroke-width="1.8"/>
<!-- gut bottom cut (light) -->
<path d="M189 357.5 L221 359.5 L221 364 L189 361.5 Z" fill="#c6c6c6"/>
<!-- blue mesonephros -->
<path fill="#1fa6dd" stroke="#111" stroke-width="2.2" stroke-linejoin="round" d="M274.2 112.5 C274.7 111.9 275.4 109.8 277.0 109.0 C278.6 108.2 281.2 107.2 283.6 107.8 C286.0 108.4 289.0 110.1 291.4 112.5 C293.8 114.9 295.6 118.9 297.7 122.0 C299.8 125.1 302.2 127.1 304.0 131.3 C305.8 135.5 307.6 141.8 308.2 147.0 C308.8 152.2 308.0 158.0 307.5 162.7 C307.0 167.4 305.8 170.3 305.0 175.0 C304.2 179.7 303.4 186.0 302.5 190.7 C301.6 195.4 300.7 199.1 299.8 203.3 C298.9 207.5 298.0 211.3 297.1 215.8 C296.2 220.3 295.3 225.7 294.4 230.2 C293.5 234.7 292.8 238.5 291.7 242.7 C290.6 246.9 289.3 251.8 288.1 255.2 C286.9 258.6 285.6 259.1 284.5 263.0 C283.4 266.9 282.1 273.3 281.2 278.5 C280.2 283.7 279.7 288.9 278.8 294.1 C277.9 299.3 276.8 304.7 275.7 309.8 C274.6 314.9 273.3 319.9 272.0 325.0 C270.7 330.1 269.6 335.9 268.1 340.4 C266.6 344.9 265.6 348.1 263.0 352.0 C260.4 355.9 256.9 360.3 252.8 363.7 C248.7 367.1 243.2 370.1 238.3 372.4 C233.5 374.7 227.6 376.4 223.7 377.5 C219.8 378.6 216.4 378.8 215.0 379.0 L210.5 368.5 L218.0 362.0 C219.0 361.0 222.3 358.3 224.0 356.0 C225.7 353.7 226.7 354.0 228.0 348.0 C229.3 342.0 230.7 329.7 232.0 320.0 C233.3 310.3 234.7 300.0 236.0 290.0 C237.3 280.0 238.6 270.8 240.0 260.0 C241.4 249.2 243.4 233.8 244.4 225.4 C245.4 217.0 245.2 215.4 246.0 209.7 C246.8 204.0 247.5 197.3 249.1 191.0 C250.7 184.7 253.1 177.8 255.4 172.0 C257.8 166.2 260.8 161.6 263.2 156.4 C265.6 151.2 267.9 146.0 269.5 140.8 C271.1 135.6 271.8 129.7 272.6 125.0 C273.4 120.3 273.9 114.6 274.2 112.5 Z"/>
<path fill="url(#dband)" stroke="none" d="M289.9 120.4 C290.6 122.8 293.1 129.6 294.0 134.5 C294.9 139.4 295.3 144.9 295.5 150.0 C295.7 155.1 295.2 160.0 295.0 165.0 C294.8 170.0 294.9 175.0 294.4 180.0 C293.9 185.0 292.8 190.5 292.0 195.0 C291.2 199.5 291.0 201.9 289.9 206.9 C288.8 211.9 286.9 219.4 285.4 224.8 C283.9 230.2 282.5 234.6 281.0 239.1 C279.5 243.6 277.7 247.9 276.5 251.6 C275.3 255.2 274.4 256.5 273.6 261.0 C272.8 265.5 272.5 273.0 271.8 278.5 C271.1 284.0 270.4 288.9 269.5 294.1 C268.6 299.3 266.8 307.2 266.3 309.8 L284.5 263.0 C285.1 261.7 286.9 258.6 288.1 255.2 C289.3 251.8 290.6 246.9 291.7 242.7 C292.8 238.5 293.5 234.7 294.4 230.2 C295.3 225.7 296.2 220.3 297.1 215.8 C298.0 211.3 298.9 207.5 299.8 203.3 C300.7 199.1 301.6 195.4 302.5 190.7 C303.4 186.0 304.2 179.7 305.0 175.0 C305.8 170.3 307.0 167.4 307.5 162.7 C308.0 158.0 308.8 152.2 308.2 147.0 C307.6 141.8 305.8 135.5 304.0 131.3 C302.2 127.1 298.8 123.5 297.7 122.0 Z"/>
<path fill="url(#steel)" stroke="none" d="M268.0 322.0 C267.5 322.6 266.3 323.0 265.2 325.8 C264.1 328.6 263.4 334.8 261.6 338.9 C259.8 343.0 257.2 347.1 254.3 350.6 C251.4 354.1 248.2 357.3 244.1 360.0 C240.0 362.7 234.8 364.8 229.6 366.6 C224.4 368.4 215.8 370.3 213.0 371.0 L215.0 379.0 C216.4 378.8 219.8 378.6 223.7 377.5 C227.6 376.4 233.5 374.7 238.3 372.4 C243.2 370.1 248.7 367.1 252.8 363.7 C256.9 360.3 260.4 355.9 263.0 352.0 C265.6 348.1 266.6 344.9 268.1 340.4 C269.6 335.9 270.7 330.1 272.0 325.0 C273.3 319.9 275.1 312.3 275.7 309.8 Z"/>
<path fill="none" stroke="#111" stroke-width="1.5" d="M274.0 311.0 C273.0 312.8 269.5 319.5 268.0 322.0 C266.5 324.5 266.3 323.0 265.2 325.8 C264.1 328.6 263.4 334.8 261.6 338.9 C259.8 343.0 257.2 347.1 254.3 350.6 C251.4 354.1 248.2 357.3 244.1 360.0 C240.0 362.7 234.8 364.8 229.6 366.6 C224.4 368.4 215.8 370.3 213.0 371.0"/>
<path fill="none" stroke="#111" stroke-width="1.5" d="M289.9 120.4 C290.6 122.8 293.1 129.6 294.0 134.5 C294.9 139.4 295.3 144.9 295.5 150.0 C295.7 155.1 295.2 160.0 295.0 165.0 C294.8 170.0 294.9 175.0 294.4 180.0 C293.9 185.0 292.8 190.5 292.0 195.0 C291.2 199.5 291.0 201.9 289.9 206.9 C288.8 211.9 286.9 219.4 285.4 224.8 C283.9 230.2 282.5 234.6 281.0 239.1 C279.5 243.6 277.7 247.9 276.5 251.6 C275.3 255.2 274.4 256.5 273.6 261.0 C272.8 265.5 272.5 273.0 271.8 278.5 C271.1 284.0 270.4 288.9 269.5 294.1 C268.6 299.3 267.7 305.0 266.3 309.8 C264.9 314.6 263.0 318.9 261.0 323.0 C259.0 327.1 256.6 330.7 254.3 334.6 C252.0 338.5 249.9 342.6 247.0 346.2 C244.1 349.8 240.7 353.5 236.8 356.4 C232.9 359.3 227.8 361.8 223.7 363.7 C219.6 365.6 213.9 366.9 212.0 367.5"/>
<path fill="none" stroke="#111" stroke-width="2.2" stroke-linejoin="round" d="M274.2 112.5 C274.7 111.9 275.4 109.8 277.0 109.0 C278.6 108.2 281.2 107.2 283.6 107.8 C286.0 108.4 289.0 110.1 291.4 112.5 C293.8 114.9 295.6 118.9 297.7 122.0 C299.8 125.1 302.2 127.1 304.0 131.3 C305.8 135.5 307.6 141.8 308.2 147.0 C308.8 152.2 308.0 158.0 307.5 162.7 C307.0 167.4 305.8 170.3 305.0 175.0 C304.2 179.7 303.4 186.0 302.5 190.7 C301.6 195.4 300.7 199.1 299.8 203.3 C298.9 207.5 298.0 211.3 297.1 215.8 C296.2 220.3 295.3 225.7 294.4 230.2 C293.5 234.7 292.8 238.5 291.7 242.7 C290.6 246.9 289.3 251.8 288.1 255.2 C286.9 258.6 285.6 259.1 284.5 263.0 C283.4 266.9 282.1 273.3 281.2 278.5 C280.2 283.7 279.7 288.9 278.8 294.1 C277.9 299.3 276.8 304.7 275.7 309.8 C274.6 314.9 273.3 319.9 272.0 325.0 C270.7 330.1 269.6 335.9 268.1 340.4 C266.6 344.9 265.6 348.1 263.0 352.0 C260.4 355.9 256.9 360.3 252.8 363.7 C248.7 367.1 243.2 370.1 238.3 372.4 C233.5 374.7 227.6 376.4 223.7 377.5 C219.8 378.6 216.4 378.8 215.0 379.0 L210.5 368.5 L218.0 362.0 C219.0 361.0 222.3 358.3 224.0 356.0 C225.7 353.7 226.7 354.0 228.0 348.0 C229.3 342.0 230.7 329.7 232.0 320.0 C233.3 310.3 234.7 300.0 236.0 290.0 C237.3 280.0 238.6 270.8 240.0 260.0 C241.4 249.2 243.4 233.8 244.4 225.4 C245.4 217.0 245.2 215.4 246.0 209.7 C246.8 204.0 247.5 197.3 249.1 191.0 C250.7 184.7 253.1 177.8 255.4 172.0 C257.8 166.2 260.8 161.6 263.2 156.4 C265.6 151.2 267.9 146.0 269.5 140.8 C271.1 135.6 271.8 129.7 272.6 125.0 C273.4 120.3 273.9 114.6 274.2 112.5 Z"/>
<g stroke="#5a2a4a" stroke-width="0.9" stroke-linecap="round" fill="none">
<path d="M298.5 196 l2.5 3.5"/><path d="M297 206 l2.5 3.5"/><path d="M295.8 216 l2.2 3.8"/><path d="M294.5 226 l2 4"/>
<path d="M268 343 l3 4"/><path d="M265 350 l2.5 4.5"/><path d="M260.5 356 l2 4.5"/><path d="M255.5 361 l1.5 4.5"/><path d="M250 365 l1.5 4.5"/><path d="M244.5 368 l0.8 4.5"/><path d="M239 370.5 l0.5 4.5"/>
</g>
<!-- gonad -->
<path fill="#a61f1f" stroke="#111" stroke-width="2" stroke-linejoin="round" d="M247.0 221.8 C245.8 223.0 242.0 226.5 240.0 229.0 C238.0 231.5 236.8 232.4 235.2 237.0 C233.6 241.6 231.6 249.6 230.2 256.8 C228.8 264.0 227.7 271.9 226.8 280.3 C226.0 288.7 225.5 298.6 225.1 307.0 C224.7 315.4 224.6 323.8 224.5 330.6 C224.4 337.4 224.2 344.0 224.5 348.0 C224.8 352.0 225.8 353.4 226.0 354.5 L229.0 352.5 C230.1 351.2 233.4 348.2 235.4 344.7 C237.4 341.2 239.8 335.7 241.2 331.6 C242.5 327.5 243.0 323.6 243.5 320.0 C244.0 316.4 243.9 314.1 244.4 309.8 C244.9 305.5 246.0 299.3 246.7 294.1 C247.3 288.9 247.8 283.4 248.3 278.5 C248.8 273.6 249.6 269.1 249.9 264.4 C250.2 259.6 250.2 255.1 250.3 250.0 C250.4 244.9 251.1 238.3 250.5 233.6 C249.9 228.9 247.6 223.8 247.0 221.8 Z"/>
<!-- black bar -->
<rect x="208.5" y="257.5" width="86.5" height="5" fill="#111"/>

<!-- labels A lines -->
<g stroke="#111" stroke-width="2.3" fill="none" stroke-linecap="butt">
<path d="M327.6 28 L275.8 184.6"/>
<path d="M372.5 65.5 L303.5 174"/>
<path d="M96 230 L164 248"/>
<path d="M233 300 L321 373"/>
</g>
<text x="330.9" y="19.8">Mesonephros</text>
<text x="425" y="53.1">Mesonephric</text>
<text x="425" y="75.3">duct</text>
<text x="47.5" y="226.3">Intestinal</text>
<text x="47.5" y="248.3">loop</text>
<text x="354.7" y="395.4">Gonad</text>
<text x="19.5" y="443.3" style="font-size:33px">A</text>
<g fill="none" stroke="#151515" stroke-width="1.7" stroke-linecap="round" stroke-linejoin="round">
<path d="M86.4 431.2 C88 429 90.5 426.5 92.2 425 C93.2 426.5 92.2 429.5 90.5 431 C89.5 431.8 88 431.8 88 431.5 C90.5 431.3 93.5 431.2 95.8 430.5 C97 427 98.5 421 100 417 C100.8 415.2 101.8 414.8 102.3 416 C103 418 102.5 421.5 101.8 424 C101.3 426.5 101 428.5 101.2 430.8 C102 429.6 103 428.4 104.3 427.4 C106 426.2 109 426.3 109.8 428 C110.4 430 109 431.8 107 431.6 C105 431.4 104.4 429.6 105 428.2"/>
<path d="M112 429.4 L116.8 428.8"/>
<path d="M118.8 431.8 C120 428 121.2 423.5 122.3 420 C123 417 123.8 415.8 125.5 415.2 C127.5 414.6 130.5 414.5 131.2 416.5 C131.8 419 128.5 421.5 123.8 424.2 C126.5 426 129.5 428.8 133.2 431.1"/>
</g>

<!-- ============ PANEL B ============ -->
<!-- main gray shape -->
<path fill="#d5d5d5" d="M493.3 205.0 C493.3 202.3 492.9 194.5 493.5 189.0 C494.1 183.5 495.4 176.9 497.0 172.0 C498.6 167.1 501.1 163.3 503.4 159.7 C505.7 156.1 508.2 153.0 511.0 150.5 C513.8 148.0 516.8 146.2 520.0 144.5 C523.2 142.8 526.2 141.5 530.0 140.5 C533.8 139.5 538.0 139.0 543.0 138.4 C548.0 137.8 554.2 137.3 560.0 137.0 C565.8 136.7 571.3 136.4 578.0 136.6 C584.7 136.8 593.2 137.3 600.0 138.2 C606.8 139.1 612.5 140.6 618.8 142.0 C625.1 143.4 631.3 145.0 637.6 146.6 C643.9 148.2 650.2 150.0 656.5 151.4 C662.8 152.8 669.0 153.8 675.3 155.1 C681.6 156.3 687.8 157.9 694.1 158.9 C700.4 159.9 706.7 160.2 713.0 160.8 C719.3 161.4 726.0 161.9 731.8 162.6 C737.6 163.3 742.2 164.2 747.9 165.2 C753.6 166.2 760.4 167.6 765.8 168.8 C771.2 170.0 775.6 170.8 780.1 172.4 C784.6 174.1 789.1 176.6 792.7 178.7 C796.3 180.8 798.9 182.5 801.6 184.9 C804.3 187.3 806.4 189.8 808.8 193.0 C811.2 196.2 814.0 200.2 816.0 204.0 C818.0 207.8 819.3 211.3 821.0 216.0 C822.7 220.7 824.6 226.3 826.0 232.0 C827.4 237.7 828.7 243.7 829.5 250.0 C830.3 256.3 830.8 263.3 831.0 270.0 C831.2 276.7 831.2 283.2 831.0 290.0 C830.8 296.8 830.4 305.8 830.0 310.5 C829.6 315.2 828.8 317.2 828.5 318.5 L828.5 318.5 C821.5 319.1 800.6 321.2 786.5 322.4 C772.4 323.6 758.2 325.0 744.1 325.7 C730.0 326.4 715.9 326.5 701.8 326.6 C687.7 326.8 673.5 327.0 659.4 326.6 C645.3 326.2 631.1 325.6 617.0 324.5 C602.9 323.4 588.8 321.6 574.7 320.2 C560.6 318.8 542.7 318.1 532.4 316.0 C522.1 313.9 516.2 308.9 513.0 307.5 L513.0 308.0 C512.7 305.8 511.7 299.7 511.0 295.0 C510.3 290.3 509.8 285.3 509.0 280.0 C508.2 274.7 507.3 268.0 506.0 263.0 C504.7 258.0 502.2 254.1 501.0 250.0 C499.8 245.9 499.5 243.7 498.5 238.5 C497.5 233.3 495.8 224.6 495.0 219.0 C494.2 213.4 493.8 207.3 493.5 205.0 Z"/>
<path fill="url(#coel)" d="M504.6 242.8 C505.8 242.9 509.6 243.2 512.0 243.5 C514.4 243.8 516.8 243.8 518.8 244.6 C520.8 245.3 522.7 246.5 524.0 248.0 C525.3 249.5 526.0 251.3 526.6 253.6 C527.2 255.9 527.6 259.0 527.8 262.0 C528.0 265.0 527.9 267.1 528.0 271.8 C528.1 276.5 528.3 283.1 528.5 290.0 C528.7 296.9 528.9 309.6 529.0 313.5 L529.0 313.5 C530.8 314.1 537.8 316.4 539.5 317.0 L539.5 317.0 C539.6 313.3 539.8 302.5 540.0 295.0 C540.2 287.5 540.5 277.6 540.8 271.8 C541.1 266.0 541.4 263.5 541.8 260.0 C542.2 256.5 542.5 253.5 543.4 251.0 C544.3 248.5 545.5 246.7 547.0 245.0 C548.5 243.3 550.3 241.8 552.5 240.7 C554.7 239.6 557.0 239.0 560.0 238.6 C563.0 238.2 567.6 238.0 570.6 238.0 C573.6 238.0 576.8 238.5 578.0 238.6 L578.0 238.6 C578.4 240.3 579.4 246.0 580.2 248.9 C581.0 251.8 582.0 253.6 583.0 256.0 C584.0 258.4 584.8 261.2 586.0 263.5 C587.2 265.8 588.5 267.6 590.0 269.5 C591.5 271.4 593.0 273.5 594.7 275.1 C596.4 276.7 598.0 277.8 600.0 279.0 C602.0 280.2 604.2 281.4 606.4 282.4 C608.6 283.4 610.6 284.3 613.0 285.0 C615.4 285.7 618.5 286.4 621.0 286.7 C623.5 287.0 625.6 287.0 628.0 287.0 C630.4 287.0 633.0 287.0 635.5 286.7 C638.0 286.4 640.6 285.7 643.0 285.0 C645.4 284.3 647.8 283.4 650.0 282.4 C652.2 281.4 654.3 280.0 656.0 279.0 C657.7 278.0 658.9 277.5 660.2 276.6 C661.5 275.7 662.7 274.5 664.0 273.5 C665.3 272.5 667.3 271.0 668.0 270.5 L668.0 270.5 C668.8 271.5 671.1 274.4 673.0 276.6 C674.9 278.9 676.9 281.8 679.4 284.0 C681.9 286.2 685.1 288.3 688.0 290.0 C690.9 291.7 693.8 293.2 697.0 294.4 C700.2 295.6 703.6 296.5 707.0 297.0 C710.4 297.5 713.8 297.7 717.6 297.4 C721.4 297.1 726.1 296.0 730.0 295.0 C733.9 294.0 737.2 293.1 741.0 291.5 C744.8 289.9 749.0 287.7 753.0 285.5 C757.0 283.3 761.7 280.6 764.7 278.2 C767.7 275.8 769.1 273.4 771.0 271.0 C772.9 268.6 774.3 266.7 775.8 264.0 C777.3 261.3 779.0 257.9 780.0 255.0 C781.0 252.1 781.1 249.8 781.6 246.5 C782.1 243.2 782.8 238.9 783.0 235.0 C783.2 231.1 783.4 226.8 783.1 223.3 C782.9 219.8 782.3 217.0 781.5 214.0 C780.7 211.0 779.5 207.9 778.4 205.5 C777.3 203.1 776.2 201.3 775.0 199.5 C773.8 197.7 772.7 196.2 771.2 194.8 C769.7 193.4 767.5 192.1 766.0 191.0 C764.5 189.9 763.9 189.4 762.2 188.5 C760.5 187.6 757.8 186.4 756.0 185.5 C754.2 184.6 752.2 183.5 751.5 183.1 L751.5 183.1 C751.2 182.7 749.9 181.2 750.0 180.5 C750.1 179.8 750.9 179.1 752.4 178.7 C753.9 178.2 756.8 178.0 759.0 177.8 C761.2 177.7 762.9 177.5 765.8 177.8 C768.7 178.1 773.0 178.4 776.6 179.6 C780.2 180.8 783.7 182.8 787.3 185.0 C790.9 187.2 795.0 190.2 798.0 193.0 C801.0 195.8 803.1 197.9 805.2 202.0 C807.3 206.1 809.0 212.8 810.7 217.5 C812.4 222.2 814.0 225.7 815.5 230.0 C817.0 234.3 818.3 239.1 819.5 243.6 C820.7 248.1 821.8 252.6 822.5 257.0 C823.2 261.4 823.5 265.6 823.8 269.8 C824.0 274.0 824.0 278.1 824.0 282.0 C824.0 285.9 824.0 289.1 823.8 293.1 C823.6 297.1 823.3 301.7 822.8 306.0 C822.3 310.3 821.3 316.8 821.0 319.0 L821.0 319.5 C815.2 320.0 799.3 321.4 786.5 322.4 C773.7 323.4 758.2 325.0 744.1 325.7 C730.0 326.4 715.9 326.5 701.8 326.6 C687.7 326.8 673.5 327.0 659.4 326.6 C645.3 326.2 631.1 325.6 617.0 324.5 C602.9 323.4 588.8 321.6 574.7 320.2 C560.6 318.8 542.7 318.1 532.4 316.0 C522.1 313.9 516.2 308.9 513.0 307.5 L513.0 308.0 C512.7 305.8 511.7 299.7 511.0 295.0 C510.3 290.3 509.8 285.3 509.0 280.0 C508.2 274.7 506.9 268.0 506.0 263.0 C505.1 258.0 503.7 253.4 503.5 250.0 C503.3 246.6 504.4 244.0 504.6 242.8 Z"/>
<path fill="url(#wedge)" d="M764.7 278.2 C765.8 277.0 769.1 273.4 771.0 271.0 C772.9 268.6 774.3 266.7 775.8 264.0 C777.3 261.3 779.0 257.9 780.0 255.0 C781.0 252.1 781.1 249.8 781.6 246.5 C782.1 243.2 782.8 238.9 783.0 235.0 C783.2 231.1 783.4 226.8 783.1 223.3 C782.9 219.8 782.3 217.0 781.5 214.0 C780.7 211.0 779.5 207.9 778.4 205.5 C777.3 203.1 776.2 201.3 775.0 199.5 C773.8 197.7 772.7 196.2 771.2 194.8 C769.7 193.4 767.5 192.1 766.0 191.0 C764.5 189.9 763.9 189.4 762.2 188.5 C760.5 187.6 757.8 186.4 756.0 185.5 C754.2 184.6 752.2 183.5 751.5 183.1 L751.5 183.1 C751.2 182.7 749.9 181.2 750.0 180.5 C750.1 179.8 750.9 179.1 752.4 178.7 C753.9 178.2 756.8 178.0 759.0 177.8 C761.2 177.7 762.9 177.5 765.8 177.8 C768.7 178.1 773.0 178.4 776.6 179.6 C780.2 180.8 783.7 182.8 787.3 185.0 C790.9 187.2 795.0 190.2 798.0 193.0 C801.0 195.8 803.1 197.9 805.2 202.0 C807.3 206.1 809.0 212.8 810.7 217.5 C812.4 222.2 814.0 225.7 815.5 230.0 C817.0 234.3 818.3 239.1 819.5 243.6 C820.7 248.1 821.8 252.6 822.5 257.0 C823.2 261.4 823.5 265.6 823.8 269.8 C824.0 274.0 824.0 278.1 824.0 282.0 C824.0 285.9 824.0 289.1 823.8 293.1 C823.6 297.1 823.3 301.7 822.8 306.0 C822.3 310.3 821.3 316.8 821.0 319.0 L786.5 322.4 C783.8 322.6 772.8 323.3 770.0 323.5 Z"/>
<path fill="url(#lobeL)" d="M504.6 242.8 C505.8 242.9 509.6 243.2 512.0 243.5 C514.4 243.8 516.8 243.8 518.8 244.6 C520.8 245.3 522.7 246.5 524.0 248.0 C525.3 249.5 526.0 251.3 526.6 253.6 C527.2 255.9 527.6 259.0 527.8 262.0 C528.0 265.0 527.9 267.1 528.0 271.8 C528.1 276.5 528.3 283.1 528.5 290.0 C528.7 296.9 528.9 309.6 529.0 313.5 L529.0 313.5 C526.3 312.5 515.7 308.5 513.0 307.5 L513.0 308.0 C512.7 305.8 511.7 299.7 511.0 295.0 C510.3 290.3 509.8 285.3 509.0 280.0 C508.2 274.7 506.9 268.0 506.0 263.0 C505.1 258.0 503.7 253.4 503.5 250.0 C503.3 246.6 504.4 244.0 504.6 242.8 Z"/>
<path fill="url(#rlobe)" d="M504.6 242.8 C505.8 242.9 509.6 243.2 512.0 243.5 C514.4 243.8 516.8 243.8 518.8 244.6 C520.8 245.3 522.7 246.5 524.0 248.0 C525.3 249.5 526.0 251.3 526.6 253.6 C527.2 255.9 527.6 259.0 527.8 262.0 C528.0 265.0 527.9 267.1 528.0 271.8 C528.1 276.5 528.3 283.1 528.5 290.0 C528.7 296.9 528.9 309.6 529.0 313.5 L529.0 313.5 C530.8 314.1 537.8 316.4 539.5 317.0 L539.5 317.0 C539.6 313.3 539.8 302.5 540.0 295.0 C540.2 287.5 540.5 277.6 540.8 271.8 C541.1 266.0 541.4 263.5 541.8 260.0 C542.2 256.5 542.5 253.5 543.4 251.0 C544.3 248.5 545.5 246.7 547.0 245.0 C548.5 243.3 550.3 241.8 552.5 240.7 C554.7 239.6 557.0 239.0 560.0 238.6 C563.0 238.2 567.6 238.0 570.6 238.0 C573.6 238.0 576.8 238.5 578.0 238.6 L578.0 238.6 C578.4 240.3 579.4 246.0 580.2 248.9 C581.0 251.8 582.0 253.6 583.0 256.0 C584.0 258.4 584.8 261.2 586.0 263.5 C587.2 265.8 588.5 267.6 590.0 269.5 C591.5 271.4 593.0 273.5 594.7 275.1 C596.4 276.7 598.0 277.8 600.0 279.0 C602.0 280.2 604.2 281.4 606.4 282.4 C608.6 283.4 610.6 284.3 613.0 285.0 C615.4 285.7 618.5 286.4 621.0 286.7 C623.5 287.0 625.6 287.0 628.0 287.0 C630.4 287.0 633.0 287.0 635.5 286.7 C638.0 286.4 640.6 285.7 643.0 285.0 C645.4 284.3 647.8 283.4 650.0 282.4 C652.2 281.4 654.3 280.0 656.0 279.0 C657.7 278.0 658.9 277.5 660.2 276.6 C661.5 275.7 662.7 274.5 664.0 273.5 C665.3 272.5 667.3 271.0 668.0 270.5 L668.0 270.5 C668.8 271.5 671.1 274.4 673.0 276.6 C674.9 278.9 676.9 281.8 679.4 284.0 C681.9 286.2 685.1 288.3 688.0 290.0 C690.9 291.7 693.8 293.2 697.0 294.4 C700.2 295.6 703.6 296.5 707.0 297.0 C710.4 297.5 713.8 297.7 717.6 297.4 C721.4 297.1 726.1 296.0 730.0 295.0 C733.9 294.0 737.2 293.1 741.0 291.5 C744.8 289.9 749.0 287.7 753.0 285.5 C757.0 283.3 761.7 280.6 764.7 278.2 C767.7 275.8 769.1 273.4 771.0 271.0 C772.9 268.6 774.3 266.7 775.8 264.0 C777.3 261.3 779.0 257.9 780.0 255.0 C781.0 252.1 781.1 249.8 781.6 246.5 C782.1 243.2 782.8 238.9 783.0 235.0 C783.2 231.1 783.4 226.8 783.1 223.3 C782.9 219.8 782.3 217.0 781.5 214.0 C780.7 211.0 779.5 207.9 778.4 205.5 C777.3 203.1 776.2 201.3 775.0 199.5 C773.8 197.7 772.7 196.2 771.2 194.8 C769.7 193.4 767.5 192.1 766.0 191.0 C764.5 189.9 763.9 189.4 762.2 188.5 C760.5 187.6 757.8 186.4 756.0 185.5 C754.2 184.6 752.2 183.5 751.5 183.1 L751.5 183.1 C751.2 182.7 749.9 181.2 750.0 180.5 C750.1 179.8 750.9 179.1 752.4 178.7 C753.9 178.2 756.8 178.0 759.0 177.8 C761.2 177.7 762.9 177.5 765.8 177.8 C768.7 178.1 773.0 178.4 776.6 179.6 C780.2 180.8 783.7 182.8 787.3 185.0 C790.9 187.2 795.0 190.2 798.0 193.0 C801.0 195.8 803.1 197.9 805.2 202.0 C807.3 206.1 809.0 212.8 810.7 217.5 C812.4 222.2 814.0 225.7 815.5 230.0 C817.0 234.3 818.3 239.1 819.5 243.6 C820.7 248.1 821.8 252.6 822.5 257.0 C823.2 261.4 823.5 265.6 823.8 269.8 C824.0 274.0 824.0 278.1 824.0 282.0 C824.0 285.9 824.0 289.1 823.8 293.1 C823.6 297.1 823.3 301.7 822.8 306.0 C822.3 310.3 821.3 316.8 821.0 319.0 L821.0 319.5 C815.2 320.0 799.3 321.4 786.5 322.4 C773.7 323.4 758.2 325.0 744.1 325.7 C730.0 326.4 715.9 326.5 701.8 326.6 C687.7 326.8 673.5 327.0 659.4 326.6 C645.3 326.2 631.1 325.6 617.0 324.5 C602.9 323.4 588.8 321.6 574.7 320.2 C560.6 318.8 542.7 318.1 532.4 316.0 C522.1 313.9 516.2 308.9 513.0 307.5 L513.0 308.0 C512.7 305.8 511.7 299.7 511.0 295.0 C510.3 290.3 509.8 285.3 509.0 280.0 C508.2 274.7 506.9 268.0 506.0 263.0 C505.1 258.0 503.7 253.4 503.5 250.0 C503.3 246.6 504.4 244.0 504.6 242.8 Z"/>
<g fill="none" stroke="#111" stroke-width="2" stroke-linejoin="round" stroke-linecap="round">
<path d="M504.6 242.8 C505.8 242.9 509.6 243.2 512.0 243.5 C514.4 243.8 516.8 243.8 518.8 244.6 C520.8 245.3 522.7 246.5 524.0 248.0 C525.3 249.5 526.0 251.3 526.6 253.6 C527.2 255.9 527.6 259.0 527.8 262.0 C528.0 265.0 527.9 267.1 528.0 271.8 C528.1 276.5 528.3 283.1 528.5 290.0 C528.7 296.9 528.9 309.6 529.0 313.5 L529.0 313.5 C530.8 314.1 537.8 316.4 539.5 317.0 L539.5 317.0 C539.6 313.3 539.8 302.5 540.0 295.0 C540.2 287.5 540.5 277.6 540.8 271.8 C541.1 266.0 541.4 263.5 541.8 260.0 C542.2 256.5 542.5 253.5 543.4 251.0 C544.3 248.5 545.5 246.7 547.0 245.0 C548.5 243.3 550.3 241.8 552.5 240.7 C554.7 239.6 557.0 239.0 560.0 238.6 C563.0 238.2 567.6 238.0 570.6 238.0 C573.6 238.0 576.8 238.5 578.0 238.6"/>
<path d="M668.0 270.5 C668.8 271.5 671.1 274.4 673.0 276.6 C674.9 278.9 676.9 281.8 679.4 284.0 C681.9 286.2 685.1 288.3 688.0 290.0 C690.9 291.7 693.8 293.2 697.0 294.4 C700.2 295.6 703.6 296.5 707.0 297.0 C710.4 297.5 713.8 297.7 717.6 297.4 C721.4 297.1 726.1 296.0 730.0 295.0 C733.9 294.0 737.2 293.1 741.0 291.5 C744.8 289.9 749.0 287.7 753.0 285.5 C757.0 283.3 761.7 280.6 764.7 278.2 C767.7 275.8 769.1 273.4 771.0 271.0 C772.9 268.6 774.3 266.7 775.8 264.0 C777.3 261.3 779.0 257.9 780.0 255.0 C781.0 252.1 781.1 249.8 781.6 246.5 C782.1 243.2 782.8 238.9 783.0 235.0 C783.2 231.1 783.4 226.8 783.1 223.3 C782.9 219.8 782.3 217.0 781.5 214.0 C780.7 211.0 779.5 207.9 778.4 205.5 C777.3 203.1 776.2 201.3 775.0 199.5 C773.8 197.7 772.7 196.2 771.2 194.8 C769.7 193.4 767.5 192.1 766.0 191.0 C764.5 189.9 763.9 189.4 762.2 188.5 C760.5 187.6 757.8 186.4 756.0 185.5 C754.2 184.6 752.2 183.5 751.5 183.1 L751.5 183.1 C751.2 182.7 749.9 181.2 750.0 180.5 C750.1 179.8 750.9 179.1 752.4 178.7 C753.9 178.2 756.8 178.0 759.0 177.8 C761.2 177.7 762.9 177.5 765.8 177.8 C768.7 178.1 773.0 178.4 776.6 179.6 C780.2 180.8 783.7 182.8 787.3 185.0 C790.9 187.2 795.0 190.2 798.0 193.0 C801.0 195.8 803.1 197.9 805.2 202.0 C807.3 206.1 809.0 212.8 810.7 217.5 C812.4 222.2 814.0 225.7 815.5 230.0 C817.0 234.3 818.3 239.1 819.5 243.6 C820.7 248.1 821.8 252.6 822.5 257.0 C823.2 261.4 823.5 265.6 823.8 269.8 C824.0 274.0 824.0 278.1 824.0 282.0 C824.0 285.9 824.0 289.1 823.8 293.1 C823.6 297.1 823.3 301.7 822.8 306.0 C822.3 310.3 821.3 316.8 821.0 319.0"/>
</g>
<!-- genital ridge -->
<path fill="#1d1517" stroke="#111" stroke-width="1.6" stroke-linejoin="round" d="M572 238 C576 238 580 238.5 585 241 C591 243.5 598 247 606.4 250.4 C611 252.5 616 254 621 255.5 C626 257 631 258 635.5 259.1 C640 260.2 645 261.5 650 262.7 C655 264 660 265.5 664 267.5 L669 270.3 C666 273 663 275 660.2 276.6 C657 279 654 280.8 650 282.4 C645 284.5 640 286 635.5 286.7 C630 287.2 626 287.2 621 286.7 C616 286 611 284.5 606.4 282.4 C602 280 598 278 594.7 275.1 C591 271.5 588 267.5 586 263.5 C583.5 258.5 581.5 253.5 580.2 248.9 C579 245 577.5 241.5 575.8 239.5 Z"/>
<path fill="url(#ridge)" d="M578.5 240 C583 240.5 588 242.5 593 245 C598 247.2 602 249.2 606.4 251.2 C611 253.2 616 255 621 256.5 C626 258 631 259.2 635.5 260.2 C641 261.4 646 262.6 650 263.7 C655 265 659 266.2 662 267.5 C659 264.5 655 264 652 266 C650 267.5 648 268.8 646 270 C645 266.5 641 264.5 638 265.5 C635 266.5 632.5 270 631.5 274 C630 270.5 627 269.5 625 270 C622.5 270.8 620.5 273.5 619.5 277 C618 270 614 265.5 610.5 265.5 C607.5 265.8 605 267.5 604.2 269.5 C604 264 601.5 259.5 599 259 C597.5 259 596 259 595.5 259.5 C595.5 254 593 250 590 249.5 C587 249 585 250 583.5 251.5 C582 247 580.5 243 578.5 240 Z"/>
<!-- aorta -->
<path fill="#f06a4c" stroke="#111" stroke-width="1.8" d="M492.5 188.5 C500 189.5 506 188 512 184.5 L512 201 C506 197.5 500 197 492.5 197.8 Z"/>
<path fill="#f06a4c" stroke="#111" stroke-width="1.8" stroke-linejoin="round" d="M567 185 C575 187 582 187.5 590 187.3 C596 187 600 186.5 605.6 186.5 C612 186.6 621 187.2 633.8 190.3 L643 193 L641.6 200.5 C638 199.5 636 198.5 633.8 198.2 C621 196 612 195.3 605.6 195.2 C598 195.2 594 195.8 590 196 C582 196.2 575 196.5 567 197.5 Z"/>
<circle cx="540.3" cy="190" r="30.5" fill="#f06a4c" stroke="#111" stroke-width="1.8"/>
<circle cx="540.3" cy="190" r="24.2" fill="url(#aorta)" stroke="#111" stroke-width="1.8"/>
<g fill="#151515"><ellipse cx="515.0" cy="175.4" rx="3.3" ry="2.3" transform="rotate(-60 515.0 175.4)"/><ellipse cx="522.3" cy="167.0" rx="3.3" ry="2.3" transform="rotate(-38 522.3 167.0)"/><ellipse cx="531.3" cy="162.2" rx="3.3" ry="2.3" transform="rotate(-18 531.3 162.2)"/><ellipse cx="541.3" cy="160.8" rx="3.3" ry="2.3" transform="rotate(2 541.3 160.8)"/><ellipse cx="551.2" cy="162.9" rx="3.3" ry="2.3" transform="rotate(22 551.2 162.9)"/><ellipse cx="559.8" cy="168.3" rx="3.3" ry="2.3" transform="rotate(42 559.8 168.3)"/><ellipse cx="566.8" cy="177.7" rx="3.3" ry="2.3" transform="rotate(65 566.8 177.7)"/><ellipse cx="566.8" cy="202.3" rx="3.3" ry="2.3" transform="rotate(115 566.8 202.3)"/><ellipse cx="559.1" cy="212.4" rx="3.3" ry="2.3" transform="rotate(140 559.1 212.4)"/><ellipse cx="549.3" cy="217.8" rx="3.3" ry="2.3" transform="rotate(162 549.3 217.8)"/><ellipse cx="537.8" cy="219.1" rx="3.3" ry="2.3" transform="rotate(185 537.8 219.1)"/><ellipse cx="526.6" cy="215.8" rx="3.3" ry="2.3" transform="rotate(208 526.6 215.8)"/><ellipse cx="517.9" cy="208.8" rx="3.3" ry="2.3" transform="rotate(230 517.9 208.8)"/><ellipse cx="512.9" cy="200.0" rx="3.3" ry="2.3" transform="rotate(250 512.9 200.0)"/></g>
<!-- glomerulus -->
<circle cx="650.5" cy="200.8" r="10.6" fill="#e8684a" stroke="#111" stroke-width="1.8"/>
<g fill="none" stroke="#111" stroke-width="1.2" stroke-linecap="round">
<path d="M644 201 C644 196.5 648 195 651 196 C655 197.5 656 201 654.5 204 C653 206.5 649 207 647 205.5 C645 204 645.5 201 648 200.5 C650 200.2 651.5 201.5 651 203"/>
<path d="M641.5 196.5 C644 193.5 648.5 192.5 652 193.5"/>
<path d="M642 207 C644 209.5 648 210.5 652 209.5"/>
<path d="M656.5 197 C658.5 199.5 659 203 657.5 206"/>
</g>
<!-- blue tubule -->
<path fill="none" stroke="#111" stroke-width="10" stroke-linecap="round" stroke-linejoin="round" d="M661.3 187.8 C662.2 188.7 665.1 191.0 666.8 193.4 C668.5 195.8 670.0 199.4 671.3 202.4 C672.6 205.4 674.1 209.8 674.7 211.3 M650.0 220.3 C651.7 219.9 656.9 219.1 660.1 218.0 C663.3 216.9 666.6 214.7 669.0 213.6 C671.4 212.5 673.8 211.7 674.7 211.3 M674.7 211.3 C675.1 212.8 675.9 216.6 677.0 220.3 C678.1 224.0 680.3 229.2 681.6 233.7 C682.9 238.2 683.9 243.0 685.0 247.1 C686.1 251.2 686.9 255.3 688.4 258.5 C689.9 261.6 691.6 264.3 694.0 266.0 C696.4 267.7 699.8 268.2 702.8 268.5 C705.8 268.8 709.1 268.4 711.8 267.5 C714.5 266.6 717.2 265.3 719.0 263.0 C720.8 260.7 722.2 257.2 722.8 253.5 C723.4 249.8 723.4 245.3 722.5 241.0 C721.6 236.7 719.6 231.7 717.5 227.5 C715.4 223.3 711.3 219.4 709.6 216.0 C707.9 212.6 707.1 209.6 707.1 206.8 C707.1 204.0 707.9 200.8 709.4 199.0 C710.9 197.2 713.7 195.9 716.1 195.7 C718.5 195.5 721.5 196.4 723.9 197.9 C726.3 199.4 728.5 202.4 730.6 204.6 C732.7 206.8 734.3 209.2 736.2 211.3 C738.1 213.4 740.0 215.2 742.0 217.0 C744.0 218.8 746.4 220.8 748.5 222.0 C750.6 223.2 753.7 223.9 754.7 224.3"/>
<circle cx="755.5" cy="222.5" r="11.6" fill="#151515"/>
<path fill="none" stroke="#1ea8e0" stroke-width="6.6" stroke-linecap="round" stroke-linejoin="round" d="M661.3 187.8 C662.2 188.7 665.1 191.0 666.8 193.4 C668.5 195.8 670.0 199.4 671.3 202.4 C672.6 205.4 674.1 209.8 674.7 211.3 M650.0 220.3 C651.7 219.9 656.9 219.1 660.1 218.0 C663.3 216.9 666.6 214.7 669.0 213.6 C671.4 212.5 673.8 211.7 674.7 211.3 M674.7 211.3 C675.1 212.8 675.9 216.6 677.0 220.3 C678.1 224.0 680.3 229.2 681.6 233.7 C682.9 238.2 683.9 243.0 685.0 247.1 C686.1 251.2 686.9 255.3 688.4 258.5 C689.9 261.6 691.6 264.3 694.0 266.0 C696.4 267.7 699.8 268.2 702.8 268.5 C705.8 268.8 709.1 268.4 711.8 267.5 C714.5 266.6 717.2 265.3 719.0 263.0 C720.8 260.7 722.2 257.2 722.8 253.5 C723.4 249.8 723.4 245.3 722.5 241.0 C721.6 236.7 719.6 231.7 717.5 227.5 C715.4 223.3 711.3 219.4 709.6 216.0 C707.9 212.6 707.1 209.6 707.1 206.8 C707.1 204.0 707.9 200.8 709.4 199.0 C710.9 197.2 713.7 195.9 716.1 195.7 C718.5 195.5 721.5 196.4 723.9 197.9 C726.3 199.4 728.5 202.4 730.6 204.6 C732.7 206.8 734.3 209.2 736.2 211.3 C738.1 213.4 740.0 215.2 742.0 217.0 C744.0 218.8 746.4 220.8 748.5 222.0 C750.6 223.2 753.7 223.9 754.7 224.3"/>
<!-- labels B lines -->
<g stroke="#111" stroke-width="2.4" fill="none">
<path d="M483 156 L531 184"/>
<path d="M617 128 L651 194"/>
<path d="M687 100 L715 195"/>
<path d="M780 152 L757 217"/>
<path d="M534 275.5 L478 323.5"/>
<path d="M615.5 288 L604.5 338"/>
</g>
<text x="600.6" y="116">Glomerulus</text>
<text x="684.7" y="88.8">Excretory tube</text>
<text x="784.1" y="121.7">Mesonephric</text>
<text x="784.3" y="143.9">duct</text>
<text x="474.9" y="145.8">Aorta</text>
<text x="473.3" y="345.7">Dorsal</text>
<text x="473.3" y="367.3">mesentery</text>
<text x="608.6" y="360.8">Genital</text>
<text x="608.5" y="381.8">ridge</text>
<text x="760.4" y="360.8">Mesonephric</text>
<text x="760.7" y="381.8">ridge</text>
<text x="481.2" y="443.5" style="font-size:33px">B</text>
</svg>
</body></html>
